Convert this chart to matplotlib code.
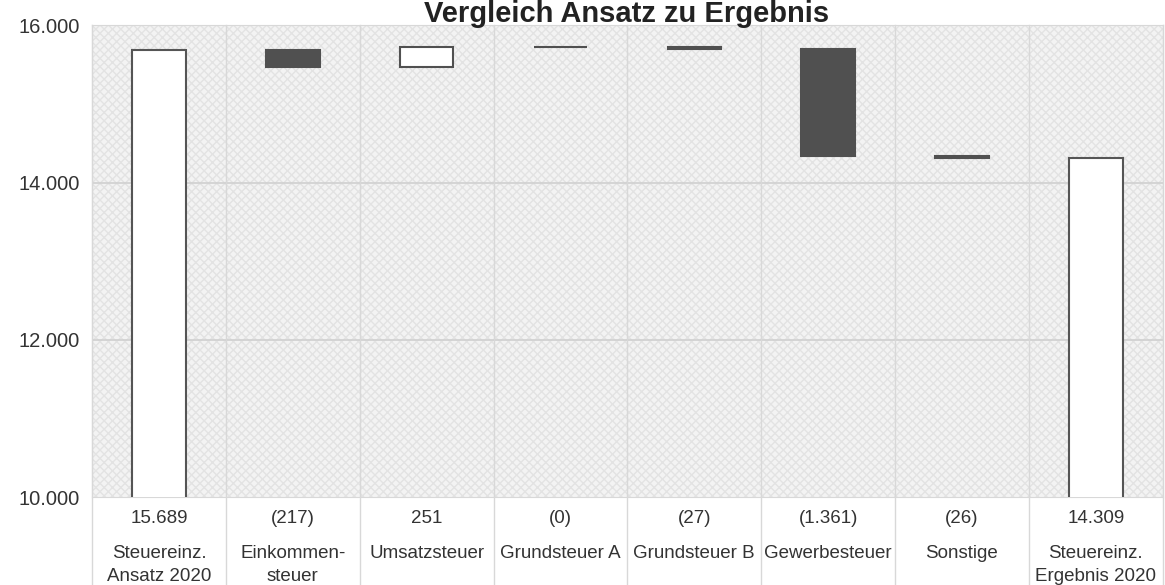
import numpy as np
import matplotlib.pyplot as plt
from matplotlib.patches import Rectangle
from matplotlib.transforms import blended_transform_factory

plt.rcParams['font.family'] = ['Liberation Sans', 'DejaVu Sans']

# Daten
kategorien = ['Steuereinz.\nAnsatz 2020', 'Einkommen-\nsteuer', 'Umsatzsteuer',
              'Grundsteuer A', 'Grundsteuer B', 'Gewerbesteuer', 'Sonstige',
              'Steuereinz.\nErgebnis 2020']
werte = [15689, -217, 251, 0, -27, -1361, -26, 14309]
summen = [True, False, False, False, False, False, False, True]


def fmt(v, summe):
    s = f"{abs(v):,}".replace(',', '.')
    if summe or v > 0:
        return s
    return f"({s})"


fig = plt.figure(figsize=(11.65, 5.85), dpi=100)
ax = fig.add_axes([0.079, 0.150, 0.919, 0.807])

x = np.arange(len(kategorien))
lauf = 0
for i, (v, s) in enumerate(zip(werte, summen)):
    if s:
        ax.bar(i, v, bottom=0, width=0.4, color='white', edgecolor='#555555',
               linewidth=1.5, zorder=3)
        lauf = v
    else:
        farbe = 'white' if v > 0 else '#505050'
        ax.bar(i, v, bottom=lauf, width=0.4, color=farbe, edgecolor='#505050',
               linewidth=1.5, zorder=3)
        lauf += v

ax.set_xlim(-0.5, len(kategorien) - 0.5)
ax.set_ylim(10000, 16000)
ax.set_yticks([10000, 12000, 14000, 16000])
ax.set_yticklabels(['10.000', '12.000', '14.000', '16.000'], fontsize=14.5,
                   color='#333333')
ax.set_xticks([])
ax.tick_params(axis='y', length=0, pad=9)

# Hintergrund mit Muster
ax.set_facecolor('#f3f3f3')
ax.add_patch(Rectangle((0, 0), 1, 1, transform=ax.transAxes, facecolor='none',
                       edgecolor='#e3e3e3', hatch='xxxx', linewidth=0, zorder=0))
for yv in [12000, 14000]:
    ax.axhline(yv, color='#d0d0d0', linewidth=1.2, zorder=1)
for spine in ax.spines.values():
    spine.set_color('#d8d8d8')

# Spaltentrenner bis unter die Tabelle
trans = blended_transform_factory(ax.transData, ax.transAxes)
for b in np.arange(-0.5, len(kategorien) - 0.4, 1.0):
    ax.plot([b, b], [-0.2, 1], transform=trans, color='#d8d8d8',
            linewidth=1.0, clip_on=False, zorder=1)

# Datentabelle unter dem Diagramm
for i, (v, s) in enumerate(zip(werte, summen)):
    ax.text(i, -0.044, fmt(v, s), transform=trans, ha='center', va='center',
            fontsize=13.5, color='#333333')
    ax.text(i, -0.102, kategorien[i], transform=trans, ha='center', va='top',
            fontsize=13.5, color='#333333', linespacing=1.4)

fig.text(0.538, 1.0, 'Vergleich Ansatz zu Ergebnis', ha='center', va='top',
         fontsize=21, fontweight='bold', color='#222222')

fig.savefig('out.png', dpi=100)
